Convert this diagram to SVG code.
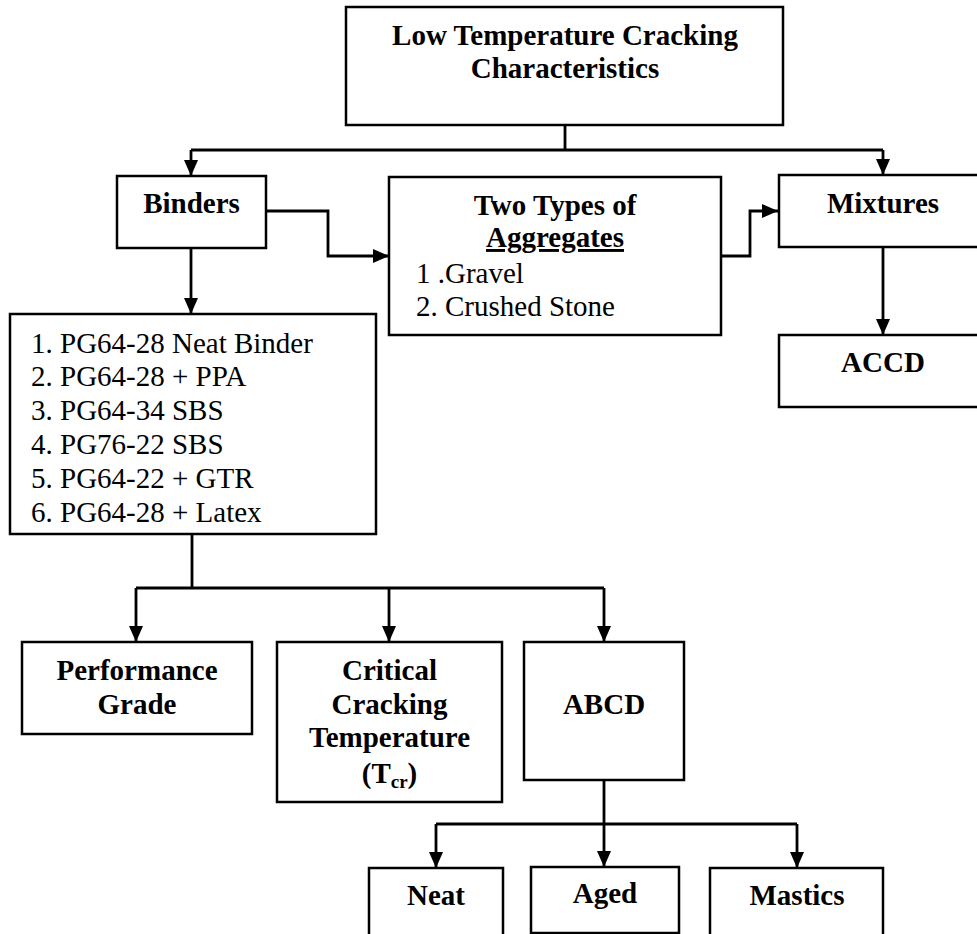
<svg xmlns="http://www.w3.org/2000/svg" width="977" height="934" viewBox="0 0 977 934">
<defs>
<style>
.box{fill:#fff;stroke:#000;stroke-width:2.5}
.conn{fill:none;stroke:#000;stroke-width:2.8}
.b{font-family:"Liberation Serif","Times New Roman",serif;font-weight:bold;font-size:29px;fill:#000;text-anchor:middle}
.r{font-family:"Liberation Serif","Times New Roman",serif;font-size:29px;fill:#000}
</style>
<marker id="ah" markerUnits="userSpaceOnUse" markerWidth="16" markerHeight="14" refX="16" refY="7" orient="auto">
<path d="M0,0 L16,7 L0,14 z" fill="#000"/>
</marker>
</defs>
<rect width="977" height="934" fill="#fff"/>
<g id="connectors">
<path class="conn" d="M565,125 V150"/>
<path class="conn" d="M191,150 H883"/>
<path class="conn" d="M191,150 V176" marker-end="url(#ah)"/>
<path class="conn" d="M883,150 V175" marker-end="url(#ah)"/>
<path class="conn" d="M191,248 V314" marker-end="url(#ah)"/>
<path class="conn" d="M266,211 H328 V256 H389" marker-end="url(#ah)"/>
<path class="conn" d="M721,256 H750 V211 H778" marker-end="url(#ah)"/>
<path class="conn" d="M883,247 V335" marker-end="url(#ah)"/>
<path class="conn" d="M192,534 V588"/>
<path class="conn" d="M136,588 H604"/>
<path class="conn" d="M136,588 V642" marker-end="url(#ah)"/>
<path class="conn" d="M389,588 V642" marker-end="url(#ah)"/>
<path class="conn" d="M604,588 V642" marker-end="url(#ah)"/>
<path class="conn" d="M604,780 V824"/>
<path class="conn" d="M436,824 H797"/>
<path class="conn" d="M436,824 V868" marker-end="url(#ah)"/>
<path class="conn" d="M604,824 V867" marker-end="url(#ah)"/>
<path class="conn" d="M797,824 V868" marker-end="url(#ah)"/>
</g>
<g id="top">
<rect class="box" x="346" y="7" width="437" height="118"/>
<text class="b" x="565" y="45">Low Temperature Cracking</text>
<text class="b" x="565" y="78">Characteristics</text>
</g>
<g id="binders">
<rect class="box" x="117" y="176" width="149" height="72"/>
<text class="b" x="191.5" y="213">Binders</text>
</g>
<g id="aggregates">
<rect class="box" x="389" y="177" width="332" height="158"/>
<text class="b" x="555" y="215">Two Types of</text>
<text class="b" x="555" y="247" text-decoration="underline">Aggregates</text>
<text class="r" x="416" y="283">1 .Gravel</text>
<text class="r" x="416" y="316">2. Crushed Stone</text>
</g>
<g id="mixtures">
<rect class="box" x="779" y="175" width="212" height="72"/>
<text class="b" x="883" y="213">Mixtures</text>
</g>
<g id="accd">
<rect class="box" x="779" y="335" width="212" height="72"/>
<text class="b" x="883" y="372">ACCD</text>
</g>
<g id="binderlist">
<rect class="box" x="10" y="314" width="366" height="220"/>
<text class="r" x="31" y="353">1. PG64-28 Neat Binder</text>
<text class="r" x="31" y="386">2. PG64-28 + PPA</text>
<text class="r" x="31" y="420">3. PG64-34 SBS</text>
<text class="r" x="31" y="454">4. PG76-22 SBS</text>
<text class="r" x="31" y="488">5. PG64-22 + GTR</text>
<text class="r" x="31" y="522">6. PG64-28 + Latex</text>
</g>
<g id="pg">
<rect class="box" x="22" y="642" width="230" height="92"/>
<text class="b" x="137" y="680">Performance</text>
<text class="b" x="137" y="714">Grade</text>
</g>
<g id="tcr">
<rect class="box" x="277" y="642" width="225" height="160"/>
<text class="b" x="389.5" y="680">Critical</text>
<text class="b" x="389.5" y="714">Cracking</text>
<text class="b" x="389.5" y="747">Temperature</text>
<text class="b" x="389.5" y="783">(T<tspan font-size="19" dy="5">cr</tspan><tspan dy="-5">)</tspan></text>
</g>
<g id="abcd">
<rect class="box" x="524" y="642" width="160" height="138"/>
<text class="b" x="604" y="714">ABCD</text>
</g>
<g id="neat">
<rect class="box" x="369" y="868" width="134" height="80"/>
<text class="b" x="436" y="905">Neat</text>
</g>
<g id="aged">
<rect class="box" x="531" y="867" width="148" height="66"/>
<text class="b" x="605" y="903">Aged</text>
</g>
<g id="mastics">
<rect class="box" x="710" y="868" width="173" height="80"/>
<text class="b" x="797" y="905">Mastics</text>
</g>
</svg>
